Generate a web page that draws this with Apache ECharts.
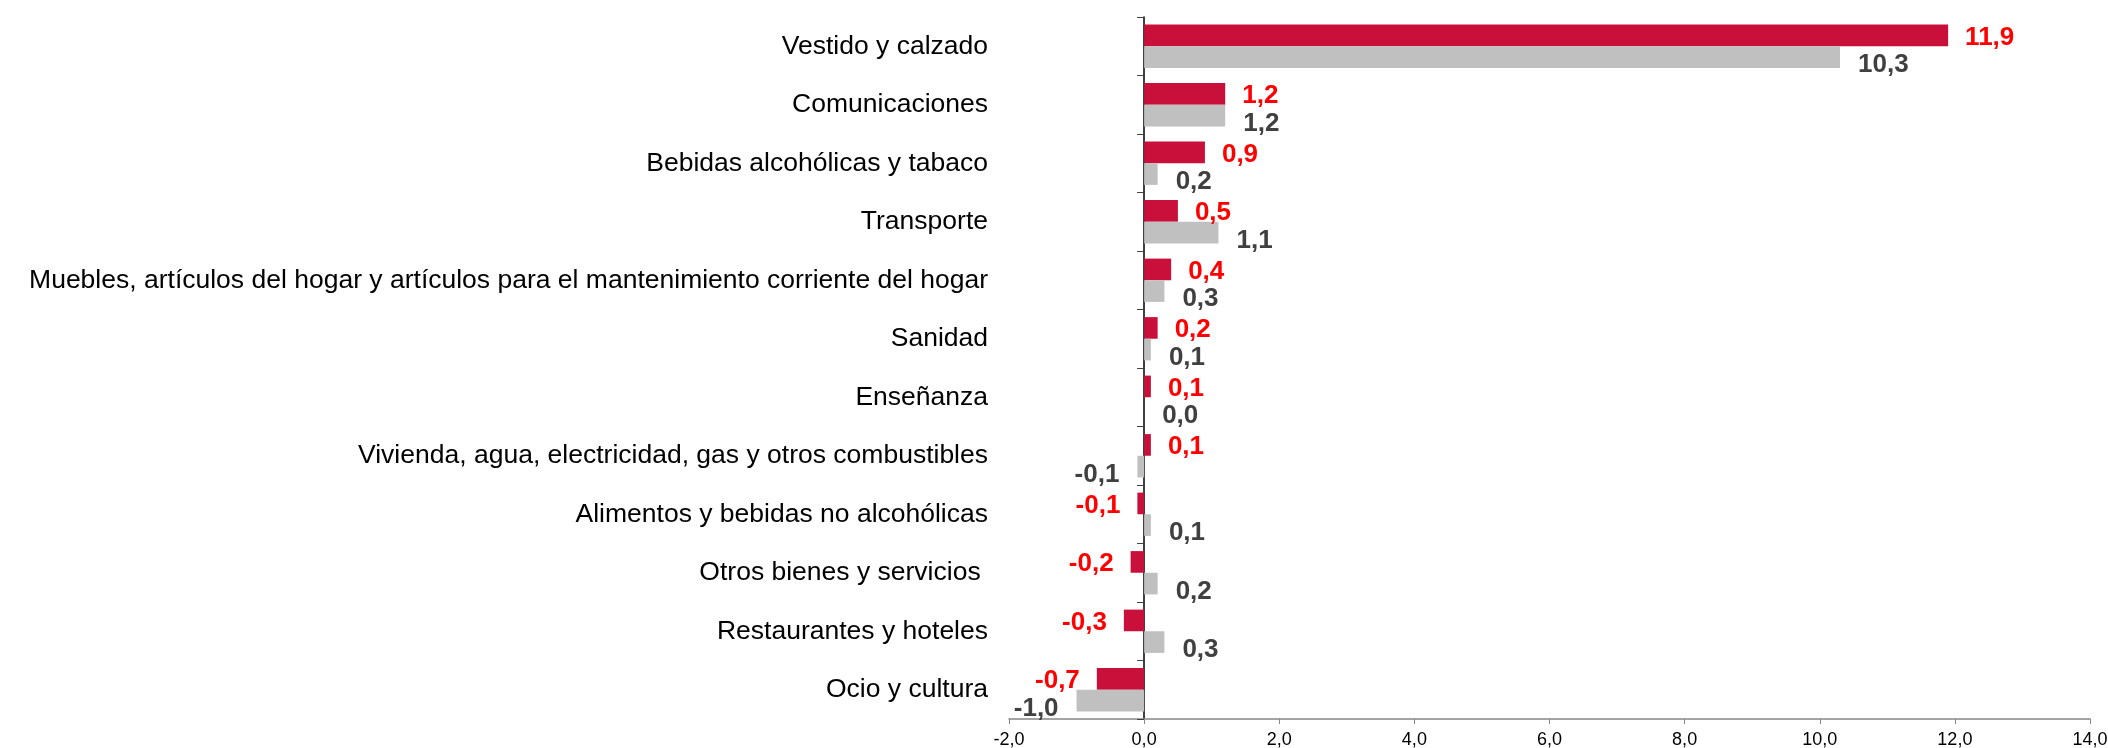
<!DOCTYPE html>
<html>
<head>
<meta charset="utf-8">
<script src="https://cdn.jsdelivr.net/npm/echarts@6/dist/echarts.min.js"></script>
<style>
  html, body { margin: 0; padding: 0; background: #fff; }
  #chart { width: 2108px; height: 748px; }
</style>
</head>
<body>
<div id="chart"></div>
<script>
// categories, top to bottom
const categories = [
  'Vestido y calzado',
  'Comunicaciones',
  'Bebidas alcohólicas y tabaco',
  'Transporte',
  'Muebles, artículos del hogar y artículos para el mantenimiento corriente del hogar',
  'Sanidad',
  'Enseñanza',
  'Vivienda, agua, electricidad, gas y otros combustibles',
  'Alimentos y bebidas no alcohólicas',
  'Otros bienes y servicios ',
  'Restaurantes y hoteles',
  'Ocio y cultura'
];
const redValues = [11.9, 1.2, 0.9, 0.5, 0.4, 0.2, 0.1, 0.1, -0.1, -0.2, -0.3, -0.7];
const grayValues = [10.3, 1.2, 0.2, 1.1, 0.3, 0.1, 0.0, -0.1, 0.1, 0.2, 0.3, -1.0];
const xTicks = { min: -2, max: 14, step: 2 };

const FONT = "'Liberation Sans', Arial, sans-serif";
const fmt = v => Number(v).toFixed(1).replace('.', ',');

function barData(values, dy) {
  return values.map(v => ({
    value: v,
    label: { position: v < 0 ? 'left' : 'right', offset: [0, dy] }
  }));
}

const chart = echarts.init(document.getElementById('chart'));
chart.setOption({
  animation: false,
  grid: { left: 1009, right: 18, top: 17, bottom: 29, containLabel: false, outerBoundsMode: 'none' },
  xAxis: {
    type: 'value',
    min: xTicks.min,
    max: xTicks.max,
    interval: xTicks.step,
    axisLine: { show: true, lineStyle: { color: '#868686', width: 1.5 } },
    axisTick: { show: true, length: 5, lineStyle: { color: '#868686' } },
    splitLine: { show: false },
    axisLabel: {
      color: '#000', fontFamily: FONT, fontSize: 18, margin: 12,
      formatter: v => fmt(v)
    }
  },
  yAxis: {
    type: 'category',
    inverse: true,
    data: categories,
    axisLine: { show: true, onZero: true, lineStyle: { color: '#000', width: 1.5 } },
    axisTick: { show: true, length: 7, lineStyle: { color: '#404040' } },
    // labels sit at the grid's left edge, not at the zero line
    axisLabel: { color: '#000', fontFamily: FONT, fontSize: 26.5, margin: 21 }
  },
  series: [
    {
      type: 'bar',
      data: barData(redValues, 2),
      barGap: '0%',
      barCategoryGap: '26%',
      itemStyle: { color: '#C8103A' },
      label: {
        show: true, distance: 17, color: '#FF0000', fontFamily: FONT,
        fontSize: 26, fontWeight: 'bold', formatter: p => fmt(p.value)
      }
    },
    {
      type: 'bar',
      data: barData(grayValues, 8),
      barGap: '0%',
      barCategoryGap: '26%',
      itemStyle: { color: '#C0C0C0' },
      label: {
        show: true, distance: 18, color: '#404040', fontFamily: FONT,
        fontSize: 26, fontWeight: 'bold', formatter: p => fmt(p.value)
      }
    }
  ]
});
</script>
</body>
</html>
